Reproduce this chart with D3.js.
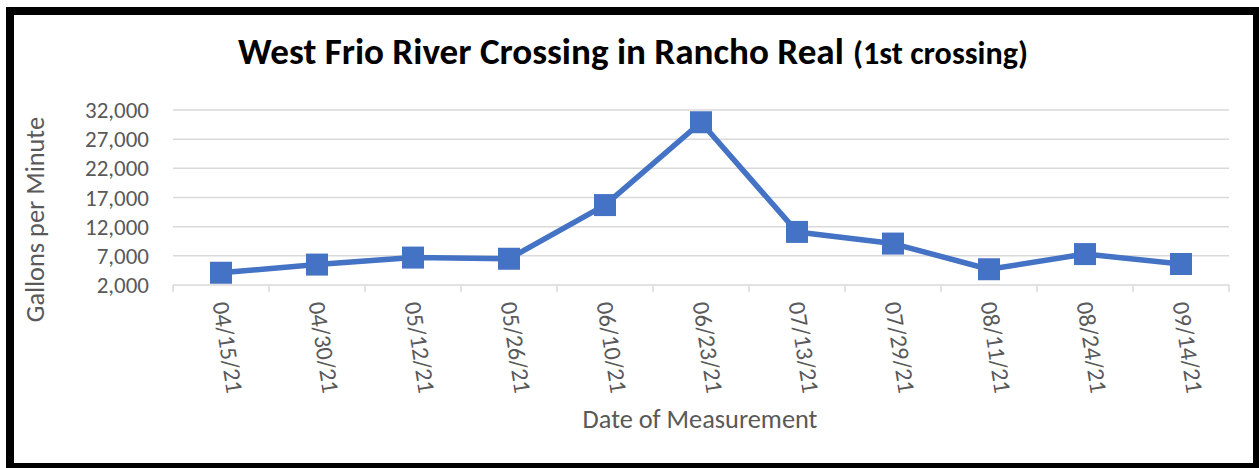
<!DOCTYPE html>
<html>
<head>
<meta charset="utf-8">
<script src="https://cdn.jsdelivr.net/npm/d3@7"></script>
<style>
  html, body { margin: 0; padding: 0; background: #fff; }
  svg { display: block; }
</style>
</head>
<body>
<svg id="chart" width="1259" height="468"></svg>
<script>
const categories = ["04/15/21", "04/30/21", "05/12/21", "05/26/21", "06/10/21", "06/23/21", "07/13/21", "07/29/21", "08/11/21", "08/24/21", "09/14/21"];
const values = [4100, 5500, 6700, 6500, 15700, 29900, 11100, 9100, 4700, 7300, 5600];
const yTicks = [2000, 7000, 12000, 17000, 22000, 27000, 32000];
const titleMain = "West Frio River Crossing in Rancho Real";
const titleSub = "(1st crossing)";
const xTitle = "Date of Measurement";
const yTitle = "Gallons per Minute";

const FONT = "Calibri, Carlito, Lato, 'Open Sans', sans-serif";
const svg = d3.select("#chart");
const W = 1259, H = 468;
const plot = { left: 173, right: 1229, top: 110, bottom: 285 };

svg.append("rect").attr("width", W).attr("height", H).attr("fill", "#fff");

const x = d3.scaleBand().domain(categories).range([plot.left, plot.right]).paddingInner(0).paddingOuter(0);
const y = d3.scaleLinear().domain([2000, 32000]).range([plot.bottom, plot.top]);

function fit(sel, target) {
  const w = sel.node().getComputedTextLength();
  const fs = parseFloat(sel.attr("font-size"));
  const nfs = fs * target / w;
  sel.attr("font-size", nfs);
  return nfs;
}

// gridlines
svg.append("g").selectAll("line")
  .data(yTicks.filter(t => t !== 2000))
  .join("line")
  .attr("x1", plot.left).attr("x2", plot.right)
  .attr("y1", d => y(d)).attr("y2", d => y(d))
  .attr("stroke", "#d9d9d9").attr("stroke-width", 1.5);

// x axis line + ticks at category boundaries
svg.append("line")
  .attr("x1", plot.left).attr("x2", plot.right)
  .attr("y1", y(2000)).attr("y2", y(2000))
  .attr("stroke", "#d9d9d9").attr("stroke-width", 1.5);
const bounds = categories.map(c => x(c)).concat([x(categories[categories.length - 1]) + x.bandwidth()]);
svg.append("g").selectAll("line").data(bounds).join("line")
  .attr("x1", d => d).attr("x2", d => d)
  .attr("y1", y(2000)).attr("y2", y(2000) + 7)
  .attr("stroke", "#d9d9d9").attr("stroke-width", 1.5);

// y tick labels
const probe = svg.append("text").attr("font-family", FONT).attr("font-size", 20).text(d3.format(",")(32000));
const yfs = fit(probe, 64);
probe.remove();
svg.append("g").selectAll("text").data(yTicks).join("text")
  .attr("x", 149).attr("y", d => y(d))
  .attr("dy", "0.35em")
  .attr("text-anchor", "end")
  .attr("font-family", FONT).attr("font-size", yfs)
  .attr("fill", "#595959")
  .text(d => d3.format(",")(d));

// x tick labels (rotated)
const probe2 = svg.append("text").attr("font-family", FONT).attr("font-size", 20).text(categories[0]);
const xfs = fit(probe2, 92);
probe2.remove();
svg.append("g").selectAll("text").data(categories).join("text")
  .attr("transform", d => `translate(${x(d) + x.bandwidth() / 2},302) rotate(81)`)
  .attr("text-anchor", "start")
  .attr("dominant-baseline", "central")
  .attr("font-family", FONT).attr("font-size", xfs)
  .attr("fill", "#595959")
  .text(d => d);

// axis titles
const xt = svg.append("text").attr("x", 700).attr("y", 428)
  .attr("text-anchor", "middle").attr("font-family", FONT).attr("font-size", 22)
  .attr("fill", "#595959").text(xTitle);
const tfs = fit(xt, 235);

svg.append("text")
  .attr("transform", "translate(44,117) rotate(-90)")
  .attr("text-anchor", "end").attr("font-family", FONT).attr("font-size", tfs)
  .attr("fill", "#595959").text(yTitle);

// title
const t1 = svg.append("text").attr("x", 238).attr("y", 64)
  .attr("font-family", FONT).attr("font-weight", "bold").attr("font-size", 28)
  .attr("fill", "#000").text(titleMain);
fit(t1, 606);
const t2 = svg.append("text").attr("x", 853).attr("y", 64)
  .attr("font-family", FONT).attr("font-weight", "bold").attr("font-size", 20)
  .attr("fill", "#000").text(titleSub);
fit(t2, 175);

// line
const line = d3.line()
  .x((d, i) => x(categories[i]) + x.bandwidth() / 2)
  .y(d => y(d));
svg.append("path").datum(values)
  .attr("d", line)
  .attr("fill", "none")
  .attr("stroke", "#4472C4")
  .attr("stroke-width", 5.5)
  .attr("stroke-linejoin", "round");

// markers
const ms = 22;
svg.append("g").selectAll("rect").data(values).join("rect")
  .attr("x", (d, i) => x(categories[i]) + x.bandwidth() / 2 - ms / 2)
  .attr("y", d => y(d) - ms / 2)
  .attr("width", ms).attr("height", ms)
  .attr("fill", "#4472C4");

// outer border
svg.append("rect")
  .attr("x", 10).attr("y", 11)
  .attr("width", 1247).attr("height", 456)
  .attr("fill", "none").attr("stroke", "#000").attr("stroke-width", 8);
</script>
</body>
</html>
